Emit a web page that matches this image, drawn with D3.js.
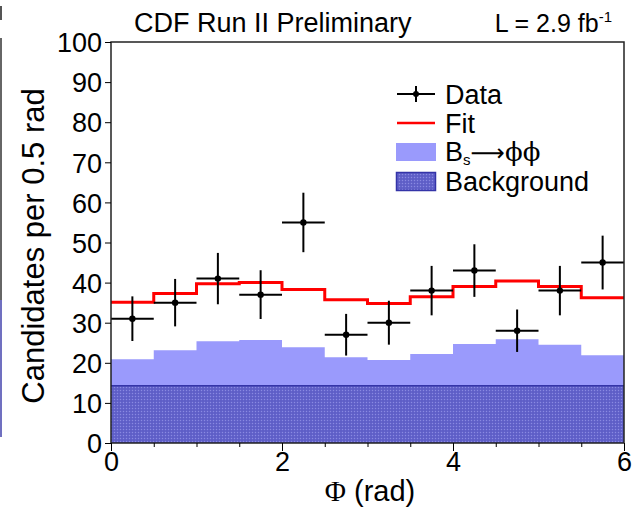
<!DOCTYPE html>
<html>
<head>
<meta charset="utf-8">
<script src="https://cdn.jsdelivr.net/npm/d3@7"></script>
<style>
  html, body { margin: 0; padding: 0; background: #fff; }
  svg { display: block; font-family: "Liberation Sans", Arial, Helvetica, sans-serif; }
</style>
</head>
<body>
<svg id="chart" width="634" height="510"></svg>
<script>
// ---- Data ----
const binCenters = [0.25, 0.75, 1.25, 1.75, 2.25, 2.75, 3.25, 3.75, 4.25, 4.75, 5.25, 5.75];
const binWidth = 0.5;
const dataCounts = [31, 35, 41, 37, 55, 27, 30, 38, 43, 28, 38, 45];
const fitValues = [35.1, 37.3, 39.7, 40.0, 38.3, 35.7, 34.8, 36.5, 39.0, 40.4, 39.0, 36.2];
const signalStack = [20.9, 23.1, 25.4, 25.7, 23.9, 21.4, 20.7, 22.2, 24.7, 25.9, 24.5, 21.9];
const backgroundValues = [14.3, 14.3, 14.3, 14.3, 14.3, 14.3, 14.3, 14.3, 14.3, 14.3, 14.3, 14.3];
const yTicks = [0, 10, 20, 30, 40, 50, 60, 70, 80, 90, 100];
const xMajorTicks = [0, 2, 4, 6];
const xMinorTicks = [0.5, 1, 1.5, 2.5, 3, 3.5, 4.5, 5, 5.5];

const svg = d3.select("#chart");
const margin = { left: 111, right: 624, top: 42, bottom: 443 };
const x = d3.scaleLinear().domain([0, 6]).range([margin.left, margin.right]);
const y = d3.scaleLinear().domain([0, 100]).range([margin.bottom, margin.top]);

// pattern for background
const defs = svg.append("defs");
const pat = defs.append("pattern").attr("id", "bgpat").attr("patternUnits", "userSpaceOnUse")
  .attr("width", 3).attr("height", 3);
pat.append("rect").attr("width", 3).attr("height", 3).attr("fill", "#6464cc");
pat.append("rect").attr("x", 0).attr("y", 0).attr("width", 1).attr("height", 1).attr("fill", "#8a8ae0");
pat.append("rect").attr("x", 1.5).attr("y", 1.5).attr("width", 1).attr("height", 1).attr("fill", "#4c4cb4");

// neighbouring-figure artifact on the left edge
svg.append("line").attr("x1", 1).attr("x2", 1).attr("y1", 6).attr("y2", 20).attr("stroke", "#555").attr("stroke-width", 2);
svg.append("line").attr("x1", 1).attr("x2", 1).attr("y1", 38).attr("y2", 300).attr("stroke", "#666").attr("stroke-width", 2);
svg.append("line").attr("x1", 1).attr("x2", 1).attr("y1", 300).attr("y2", 437).attr("stroke", "#7070c0").attr("stroke-width", 2);

// step helpers
function stepPoints(vals) {
  const pts = binCenters.map((c, i) => [c - binWidth / 2, vals[i]]);
  pts.push([binCenters[binCenters.length - 1] + binWidth / 2, vals[vals.length - 1]]);
  return pts;
}
const area = d3.area().curve(d3.curveStepAfter).x(d => x(d[0])).y0(y(0)).y1(d => y(d[1]));
const line = d3.line().curve(d3.curveStepAfter).x(d => x(d[0])).y(d => y(d[1]));

// signal (stacked, light blue)
svg.append("path").datum(stepPoints(signalStack)).attr("d", area).attr("fill", "#9a9afc");
// background
svg.append("path").datum(stepPoints(backgroundValues)).attr("d", area).attr("fill", "url(#bgpat)");
svg.append("path").datum(stepPoints(backgroundValues)).attr("d", line).attr("fill", "none")
  .attr("stroke", "#3434a8").attr("stroke-width", 1.5);

// fit
svg.append("path").datum(stepPoints(fitValues)).attr("d", line).attr("fill", "none")
  .attr("stroke", "#ff0000").attr("stroke-width", 3);

// data points
const pts = svg.append("g");
binCenters.forEach((c, i) => {
  const n = dataCounts[i], e = Math.sqrt(n);
  pts.append("line").attr("x1", x(c - binWidth / 2)).attr("x2", x(c + binWidth / 2))
    .attr("y1", y(n)).attr("y2", y(n)).attr("stroke", "#000").attr("stroke-width", 2);
  pts.append("line").attr("x1", x(c)).attr("x2", x(c))
    .attr("y1", y(n - e)).attr("y2", y(n + e)).attr("stroke", "#000").attr("stroke-width", 2);
  pts.append("circle").attr("cx", x(c)).attr("cy", y(n)).attr("r", 3.2).attr("fill", "#000");
});

// frame
svg.append("rect").attr("x", margin.left).attr("y", margin.top)
  .attr("width", margin.right - margin.left).attr("height", margin.bottom - margin.top)
  .attr("fill", "none").attr("stroke", "#222").attr("stroke-width", 1.5);

// y axis
const yAxis = d3.axisLeft(y).tickValues(yTicks).tickSize(6).tickPadding(3).tickFormat(d3.format("d"));
const gy = svg.append("g").attr("transform", `translate(${margin.left},0)`).call(yAxis);
gy.select(".domain").remove();
gy.selectAll("text").attr("font-size", 27).attr("font-family", "Liberation Sans, Arial, sans-serif").attr("fill", "#000").attr("dy", "0.36em");
gy.selectAll("line").attr("stroke", "#000");

// x axis
const xAxis = d3.axisBottom(x).tickValues(xMajorTicks).tickSize(8).tickPadding(1).tickFormat(d3.format("d"));
const gx = svg.append("g").attr("transform", `translate(0,${margin.bottom})`).call(xAxis);
gx.select(".domain").remove();
gx.selectAll("text").attr("font-size", 27).attr("font-family", "Liberation Sans, Arial, sans-serif").attr("fill", "#000");
gx.selectAll("line").attr("stroke", "#000");
const xMinor = d3.axisBottom(x).tickValues(xMinorTicks).tickSize(4).tickFormat("");
const gxm = svg.append("g").attr("transform", `translate(0,${margin.bottom})`).call(xMinor);
gxm.select(".domain").remove();
gxm.selectAll("line").attr("stroke", "#000");

// axis titles
const xt = svg.append("text").attr("x", 370).attr("y", 501).attr("text-anchor", "middle").attr("font-size", 29);
xt.append("tspan").attr("font-family", "Liberation Serif, Times New Roman, serif").text("Φ");
xt.append("tspan").text(" (rad)");
svg.append("text").attr("transform", "translate(44,246) rotate(-90)").attr("text-anchor", "middle")
  .attr("font-size", 31).text("Candidates per 0.5 rad");

// header
svg.append("text").attr("x", 134).attr("y", 32).attr("font-size", 27).text("CDF Run II Preliminary");
const lum = svg.append("text").attr("x", 612).attr("y", 32).attr("text-anchor", "end").attr("font-size", 25);
lum.append("tspan").text("L = 2.9 fb");
lum.append("tspan").attr("font-size", 15).attr("dy", -10).text("-1");

// legend
const lg = svg.append("g");
const lx0 = 397, lx1 = 435, tx = 445;
// Data
lg.append("line").attr("x1", lx0).attr("x2", lx1).attr("y1", 94).attr("y2", 94).attr("stroke", "#000").attr("stroke-width", 2);
lg.append("line").attr("x1", 416).attr("x2", 416).attr("y1", 86).attr("y2", 102).attr("stroke", "#000").attr("stroke-width", 2);
lg.append("circle").attr("cx", 416).attr("cy", 94).attr("r", 3).attr("fill", "#000");
lg.append("text").attr("x", tx).attr("y", 104).attr("font-size", 27).text("Data");
// Fit
lg.append("line").attr("x1", lx0).attr("x2", lx1).attr("y1", 123).attr("y2", 123).attr("stroke", "#ff0000").attr("stroke-width", 2.5);
lg.append("text").attr("x", tx).attr("y", 133).attr("font-size", 27).text("Fit");
// Bs -> phi phi
lg.append("rect").attr("x", 396).attr("y", 143).attr("width", 40).attr("height", 18).attr("fill", "#9a9afc");
const bt = lg.append("text").attr("x", tx).attr("y", 161).attr("font-size", 27);
bt.append("tspan").text("B");
bt.append("tspan").attr("font-size", 15).attr("dy", 4).text("s");
bt.append("tspan").attr("dy", -4).attr("font-family", "DejaVu Sans, sans-serif").attr("font-size", 24).text("⟶");
bt.append("tspan").attr("font-family", "DejaVu Serif, Liberation Serif, serif").attr("font-size", 26).text("ϕϕ");
// Background
lg.append("rect").attr("x", 396.5).attr("y", 172.5).attr("width", 39).attr("height", 18).attr("fill", "url(#bgpat)")
  .attr("stroke", "#3434a8").attr("stroke-width", 1.5);
lg.append("text").attr("x", tx).attr("y", 191).attr("font-size", 27).text("Background");
</script>
</body>
</html>
